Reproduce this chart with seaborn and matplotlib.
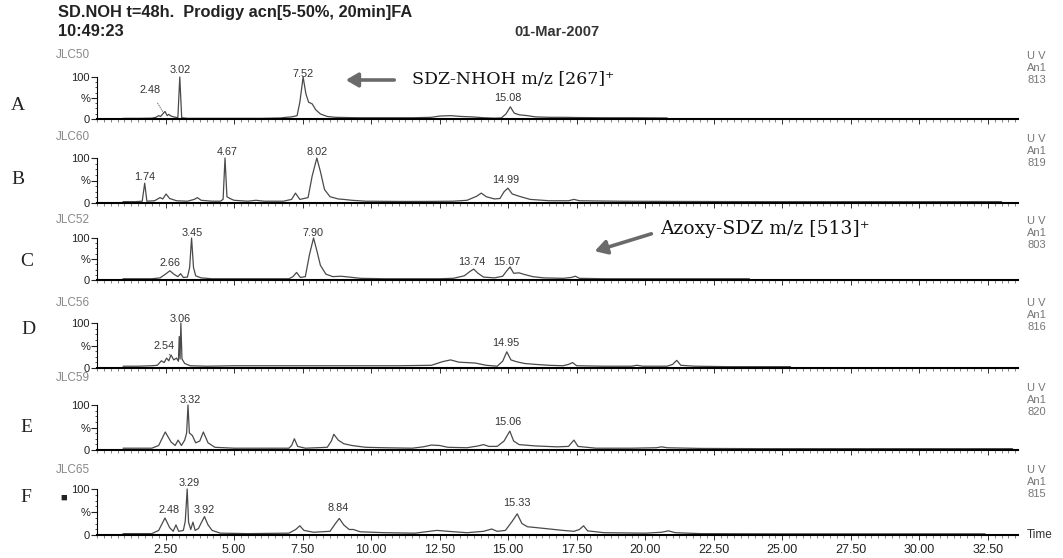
import matplotlib
matplotlib.use('Agg')
import matplotlib.pyplot as plt
import seaborn as sns
import pandas as pd
from matplotlib.ticker import MultipleLocator

# ---------------- data ----------------
channels = ["JLC50", "JLC60", "JLC52", "JLC56", "JLC59", "JLC65"]
row_letters = ["A", "B", "C", "D", "E", "F"]
uv_codes = ["813", "819", "803", "816", "820", "815"]

trace_A = [(0.95, 1.5), (1.5, 1.5), (2.0, 2), (2.15, 4), (2.25, 8), (2.32, 6), (2.4, 12), (2.48, 18),
           (2.56, 8), (2.62, 11), (2.7, 7), (2.8, 5), (2.95, 3), (3.02, 100), (3.09, 3), (3.3, 1.5),
           (4.0, 1.5), (5.0, 1.5), (6.0, 1.5), (6.7, 2.5), (6.9, 4), (7.1, 5), (7.3, 8), (7.4, 40),
           (7.52, 100), (7.62, 60), (7.72, 40), (7.85, 36), (7.98, 22), (8.15, 12), (8.4, 6), (8.7, 4),
           (9.5, 3), (10.5, 3), (11.5, 3), (12.2, 4), (12.5, 7), (12.9, 8), (13.3, 6), (13.7, 5),
           (14.1, 3), (14.5, 2), (14.75, 2.5), (14.92, 12), (15.08, 29), (15.22, 14), (15.4, 10),
           (15.7, 8), (16.0, 5), (16.5, 4), (17.0, 4), (17.5, 3.5), (18.5, 3), (19.5, 3), (20.8, 2.5)]

trace_B = [(0.95, 3), (1.4, 3), (1.65, 4), (1.74, 44), (1.82, 4), (2.1, 5), (2.3, 12), (2.4, 9),
           (2.52, 20), (2.65, 10), (2.9, 5), (3.3, 4), (3.55, 8), (3.66, 12), (3.8, 6), (4.2, 4),
           (4.5, 4), (4.6, 8), (4.67, 100), (4.74, 14), (4.85, 10), (5.0, 6), (5.5, 4), (5.8, 6),
           (6.1, 4), (6.8, 4), (7.1, 8), (7.24, 22), (7.4, 8), (7.7, 12), (7.85, 60), (8.02, 100),
           (8.15, 70), (8.3, 30), (8.5, 14), (8.8, 9), (9.0, 8), (9.3, 6), (9.8, 4), (11.0, 3.5),
           (12.0, 3.5), (13.0, 4), (13.5, 6), (13.85, 15), (14.02, 22), (14.2, 14), (14.5, 9),
           (14.7, 10), (14.85, 25), (14.99, 33), (15.15, 20), (15.4, 15), (15.8, 8), (16.5, 5),
           (17.2, 5), (17.4, 8), (17.6, 5), (19.0, 4), (21.0, 3.5), (24.0, 3), (27.0, 3), (30.0, 3),
           (33.0, 3)]

trace_C = [(0.95, 3), (1.5, 3), (2.0, 3), (2.3, 5), (2.5, 14), (2.66, 22), (2.8, 14), (2.95, 8),
           (3.05, 15), (3.15, 6), (3.3, 7), (3.38, 30), (3.45, 100), (3.52, 30), (3.6, 10), (3.8, 5),
           (4.2, 3), (5.0, 3), (6.0, 3), (7.0, 3), (7.15, 8), (7.28, 18), (7.42, 6), (7.6, 8),
           (7.75, 60), (7.90, 100), (8.02, 70), (8.15, 35), (8.35, 14), (8.6, 8), (8.9, 9), (9.2, 7),
           (9.6, 4), (10.5, 3), (11.5, 3), (12.5, 3), (13.0, 4), (13.4, 10), (13.6, 20), (13.74, 26),
           (13.9, 16), (14.1, 7), (14.5, 5), (14.8, 9), (14.95, 22), (15.07, 31), (15.2, 16),
           (15.4, 17), (15.6, 13), (15.9, 8), (16.3, 5), (17.0, 4), (17.3, 6), (17.45, 9), (17.6, 4),
           (18.5, 3), (20.0, 3), (22.0, 3), (23.8, 3)]

trace_D = [(0.95, 4), (1.5, 4), (2.0, 5), (2.2, 6), (2.35, 16), (2.45, 12), (2.54, 22), (2.62, 16),
           (2.7, 29), (2.8, 18), (2.9, 22), (2.97, 15), (3.0, 70), (3.03, 20), (3.06, 100), (3.1, 20),
           (3.2, 10), (3.4, 5), (4.0, 4), (5.0, 5), (7.0, 5), (9.0, 5), (11.0, 5), (12.2, 6),
           (12.6, 14), (12.9, 18), (13.2, 13), (13.8, 11), (14.2, 6), (14.6, 4), (14.8, 15),
           (14.95, 36), (15.1, 18), (15.3, 14), (15.6, 10), (16.0, 8), (16.5, 6), (17.0, 5),
           (17.2, 8), (17.35, 12), (17.5, 5), (18.5, 4), (19.5, 4), (19.7, 6), (19.9, 4), (20.8, 4),
           (21.0, 8), (21.15, 17), (21.3, 6), (21.8, 4), (23.0, 3), (25.3, 3)]

trace_E = [(0.95, 4), (2.0, 4), (2.25, 10), (2.49, 40), (2.7, 18), (2.85, 10), (2.96, 22), (3.08, 10),
           (3.2, 22), (3.27, 38), (3.32, 100), (3.37, 38), (3.48, 32), (3.6, 16), (3.75, 20),
           (3.88, 40), (4.05, 16), (4.3, 6), (5.0, 4), (6.0, 4), (7.0, 4), (7.1, 10), (7.2, 25),
           (7.32, 8), (7.6, 4), (8.4, 6), (8.55, 20), (8.64, 35), (8.8, 22), (9.0, 14), (9.3, 10),
           (9.8, 6), (10.5, 5), (11.5, 4), (11.9, 7), (12.2, 11), (12.5, 10), (12.8, 6), (13.5, 5),
           (13.9, 9), (14.1, 12), (14.3, 8), (14.6, 8), (14.85, 20), (15.06, 42), (15.2, 20),
           (15.4, 12), (16.0, 9), (16.8, 7), (17.2, 8), (17.4, 22), (17.55, 8), (18.2, 4), (19.5, 4),
           (20.4, 5), (20.6, 7), (20.8, 5), (22.0, 3.5), (24.0, 3), (27.0, 3), (30.0, 3), (33.4, 3)]

trace_F = [(0.95, 3), (2.0, 3), (2.25, 10), (2.48, 37), (2.65, 16), (2.78, 8), (2.88, 22), (2.98, 8),
           (3.15, 10), (3.22, 30), (3.29, 100), (3.34, 28), (3.42, 12), (3.5, 28), (3.58, 10),
           (3.7, 14), (3.8, 26), (3.92, 40), (4.05, 22), (4.2, 10), (4.5, 4), (5.5, 3), (7.0, 4),
           (7.25, 12), (7.4, 20), (7.55, 10), (7.9, 6), (8.5, 8), (8.7, 25), (8.84, 36), (9.0, 22),
           (9.2, 12), (9.35, 12), (9.6, 7), (10.5, 5), (11.6, 4), (12.0, 7), (12.4, 10), (12.8, 8),
           (13.5, 5), (14.1, 8), (14.4, 13), (14.6, 8), (14.9, 10), (15.15, 30), (15.33, 46),
           (15.5, 25), (15.7, 18), (16.2, 15), (17.0, 10), (17.4, 8), (17.6, 12), (17.75, 20),
           (17.9, 9), (18.5, 5), (20.0, 4), (20.6, 6), (20.85, 9), (21.1, 5), (22.0, 3), (25.0, 2.5),
           (28.0, 2.5), (32.4, 2.5)]

traces = [trace_A, trace_B, trace_C, trace_D, trace_E, trace_F]

# peak labels: (text, time of text, intensity of text)
labels_A = [("3.02", 3.03, 117), ("7.52", 7.5, 107), ("15.08", 15.0, 50)]
labels_B = [("1.74", 1.75, 58), ("4.67", 4.74, 113), ("8.02", 8.03, 113), ("14.99", 14.9, 51)]
labels_C = [("2.66", 2.66, 40), ("3.45", 3.47, 112), ("7.90", 7.88, 112), ("13.74", 13.68, 43),
            ("15.07", 14.96, 43)]
labels_D = [("3.06", 3.03, 109), ("14.95", 14.9, 56)]
labels_E = [("3.32", 3.39, 111), ("15.06", 15.0, 62)]
labels_F = [("3.29", 3.36, 113), ("2.48", 2.62, 54), ("3.92", 3.92, 54), ("8.84", 8.79, 59),
            ("15.33", 15.32, 70)]
peak_labels = [labels_A, labels_B, labels_C, labels_D, labels_E, labels_F]

# labels with a leader line: (panel, text, text time, text intensity, peak time, peak intensity)
leader_labels = [(0, "2.48", 1.93, 69, 2.42, 15), (3, "2.54", 2.45, 49, 2.66, 28)]

x_tick_values = [2.5, 5.0, 7.5, 10.0, 12.5, 15.0, 17.5, 20.0, 22.5, 25.0, 27.5, 30.0, 32.5]
x_tick_labels = ["2.50", "5.00", "7.50", "10.00", "12.50", "15.00", "17.50", "20.00", "22.50",
                 "25.00", "27.50", "30.00", "32.50"]

# ---------------- layout ----------------
sns.set_theme(style="white")
plt.rcParams['font.family'] = ['Liberation Sans', 'DejaVu Sans']

W, H = 1063, 558
fig = plt.figure(figsize=(W / 100, H / 100), dpi=100)


def fx(px):
    return px / W


def fy(py):
    return 1 - py / H


panel_px = [(77, 119), (158, 203), (238, 280), (323, 368), (405, 450), (489, 535)]
left_px, right_px = 97, 1018
letter_x = [18, 18, 27, 28, 26, 26]
letter_y = [105, 180, 262, 330, 427, 498]
uv_y = [68, 151, 233, 315, 400, 482]
chan_y = [55, 137, 220, 303, 378, 470]

line_col = "#4a4a4a"
axes = []
for i, (top, bot) in enumerate(panel_px):
    ax = fig.add_axes([fx(left_px), fy(bot), fx(right_px - left_px), (bot - top) / H])
    axes.append(ax)
    df = pd.DataFrame(traces[i], columns=["time", "intensity"])
    sns.lineplot(data=df, x="time", y="intensity", ax=ax, color=line_col, linewidth=0.9,
                 estimator=None, sort=False)
    for ln in ax.lines:
        ln.set_clip_on(False)
    ax.set_xlim(0, 33.6)
    ax.set_ylim(0, 100)
    ax.set_xlabel("")
    ax.set_ylabel("")
    ax.set_facecolor("none")
    for s in ["top", "right"]:
        ax.spines[s].set_visible(False)
    ax.spines["bottom"].set_linewidth(1.5)
    ax.spines["bottom"].set_color("black")
    ax.spines["left"].set_linewidth(0.8)
    ax.spines["left"].set_color("black")
    ax.set_yticks([0, 50, 100])
    ax.set_yticklabels(["0", "%", "100"])
    ax.yaxis.set_minor_locator(MultipleLocator(12.5))
    ax.tick_params(axis="y", which="major", direction="out", length=4, width=0.8, left=True,
                   labelsize=8, colors="#222", pad=1)
    ax.tick_params(axis="y", which="minor", direction="out", length=1.8, width=0.6, left=True,
                   colors="#333")
    ax.set_xticks(x_tick_values)
    ax.xaxis.set_minor_locator(MultipleLocator(0.25))
    ax.tick_params(axis="x", which="major", direction="out", length=3.5, width=0.7, bottom=True,
                   colors="#333", labelsize=9, pad=3)
    ax.tick_params(axis="x", which="minor", direction="out", length=2, width=0.5, bottom=True,
                   colors="#555")
    if i == len(panel_px) - 1:
        ax.set_xticklabels(x_tick_labels, color="#222")
    else:
        ax.set_xticklabels([])
    ax.grid(False)

    for txt, t, v in peak_labels[i]:
        ax.text(t, v, txt, ha="center", va="center", fontsize=7.8, color="#333", clip_on=False)

    fig.text(fx(56), fy(chan_y[i]), channels[i], fontsize=8.5, color="#888", ha="left", va="center")
    fig.text(fx(1027), fy(uv_y[i]), "U V\nAn1\n" + uv_codes[i], fontsize=8, color="#777",
             ha="left", va="center", linespacing=1.3)
    fig.text(fx(letter_x[i]), fy(letter_y[i]), row_letters[i], fontsize=14, color="#222",
             ha="center", va="center", family=["Liberation Serif", "DejaVu Serif"])

for p, txt, tt, tv, pt, pv in leader_labels:
    axes[p].annotate(txt, xy=(pt, pv), xytext=(tt, tv), fontsize=7.8, color="#333", ha="center",
                     va="center", annotation_clip=False,
                     arrowprops=dict(arrowstyle="-", color="#555", lw=0.6, linestyle=":",
                                     shrinkA=4, shrinkB=0))

# header texts
fig.text(fx(58), fy(13), "SD.NOH t=48h.  Prodigy acn[5-50%, 20min]FA", fontsize=11.8,
         weight="bold", ha="left", va="center", color="#222")
fig.text(fx(58), fy(31), "10:49:23", fontsize=11.8, weight="bold", ha="left", va="center",
         color="#222")
fig.text(fx(557), fy(32), "01-Mar-2007", fontsize=10.5, weight="bold", ha="center", va="center",
         color="#333")
fig.text(fx(1040), fy(535), "Time", fontsize=8.5, ha="center", va="center", color="#333")
fig.text(fx(64), fy(498), "\u25a0", fontsize=8, ha="center", va="center", color="#222")

# compound annotations with arrows
fig.text(fx(412), fy(80), "SDZ-NHOH m/z [267]\u207a", fontsize=12.5, ha="left", va="center",
         color="#111", family=["DejaVu Serif"])
fig.text(fx(660), fy(229), "Azoxy-SDZ m/z [513]\u207a", fontsize=13.5, ha="left", va="center",
         color="#111", family=["DejaVu Serif"])
arrow_kw = dict(arrowstyle="-|>,head_length=0.6,head_width=0.35", color="#6a6a6a", lw=2.6)
axes[0].annotate("", xy=(fx(343), fy(80)), xytext=(fx(397), fy(80)), xycoords="figure fraction",
                 textcoords="figure fraction", arrowprops=arrow_kw, annotation_clip=False)
axes[2].annotate("", xy=(fx(592), fy(252)), xytext=(fx(654), fy(233)), xycoords="figure fraction",
                 textcoords="figure fraction", arrowprops=arrow_kw, annotation_clip=False)

fig.savefig("out.png", dpi=100, facecolor="white")
